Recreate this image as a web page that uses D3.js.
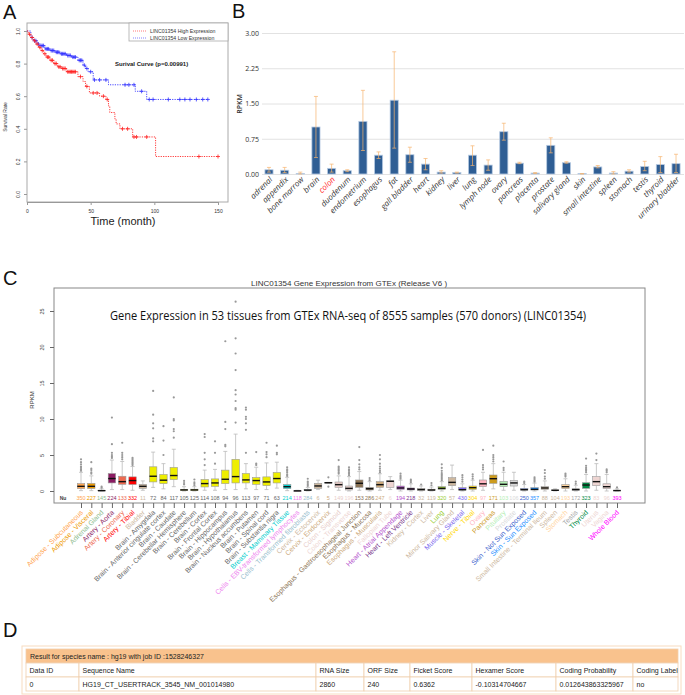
<!DOCTYPE html>
<html><head><meta charset="utf-8">
<script src="https://cdn.jsdelivr.net/npm/d3@7"></script>
<style>body{margin:0;background:#fff}</style>
</head><body><svg id="c" width="685" height="695"></svg>
<script>
// ---------- Panel A data ----------
const monthTicks=[0,50,100,150];
const survTicks=[0,0.2,0.4,0.6,0.8,1.0];
const highTimes=[0,1,3,5,7,9,11,13,15,18,21,24,27,31,40,44,46,49,57,62,64,65,69,70,73,83,101];
const highSurv=[1,0.98,0.96,0.94,0.92,0.90,0.88,0.86,0.84,0.82,0.80,0.78,0.77,0.75,0.72,0.69,0.66,0.62,0.60,0.58,0.54,0.50,0.46,0.43,0.40,0.35,0.23];
const highEnd=150;
const highCensor=[2,4,6,8,10,12,14,16,17,19,20,22,23,25,26,28,29,30,32,33,34,35,36,37,38,42,47,52,55,60,63,75,79,84,86,94,135,150];
const lowTimes=[0,3,5,8,10,14,18,22,26,31,35,40,44,46,48,52,64,85,94];
const lowSurv=[1,0.96,0.94,0.92,0.91,0.89,0.88,0.87,0.86,0.85,0.84,0.82,0.79,0.77,0.75,0.70,0.67,0.63,0.58];
const lowEnd=142;
const lowCensor=[4,6,7,9,11,12,13,15,16,17,19,20,21,23,24,25,27,28,29,30,32,33,34,36,37,38,41,42,43,45,47,50,53,57,62,77,80,84,90,96,99,111,120,124,128,133,138,142];
const legendA=["LINC01354 High Expression","LINC01354 Low  Expression"];

// ---------- Panel B data ----------
const tissuesB=["adrenal","appendix","bone marrow","brain","colon","duodenum","endometrium","esophagus","fat","gall bladder","heart","kidney","liver","lung","lymph node","ovary","pancreas","placenta","prostate","salivary gland","skin","small intestine","spleen","stomach","testis","thyroid","urinary bladder"];
const rpkm=[0.09,0.08,0.01,1.00,0.12,0.07,1.12,0.40,1.57,0.41,0.21,0.04,0.03,0.40,0.19,0.90,0.23,0.02,0.61,0.24,0.01,0.15,0.02,0.06,0.16,0.20,0.22];
const rpkmLo=[0.04,0.03,0.00,0.35,0.04,0.05,0.50,0.33,0.55,0.25,0.09,0.02,0.02,0.18,0.08,0.72,0.22,0.01,0.45,0.23,0.00,0.13,0.00,0.04,0.07,0.03,0.03];
const rpkmHi=[0.14,0.14,0.04,1.65,0.21,0.09,1.78,0.47,2.60,0.57,0.33,0.07,0.04,0.60,0.30,1.08,0.25,0.03,0.77,0.26,0.01,0.18,0.05,0.09,0.27,0.37,0.42];
const rpkmTicks=[0,0.75,1.5,2.25,3];

// ---------- Panel C data ----------
const tissuesC=["Adipose - Subcutaneous","Adipose - Visceral","Adrenal Gland","Artery - Aorta","Artery - Coronary","Artery - Tibial","Bladder","Brain - Amygdala","Brain - Anterior cingulate cortex","Brain - Caudate","Brain - Cerebellar Hemisphere","Brain - Cerebellum","Brain - Cortex","Brain - Frontal Cortex","Brain - Hippocampus","Brain - Hypothalamus","Brain - Nucleus accumbens","Brain - Putamen","Brain - Spinal cord","Brain - Substantia nigra","Breast - Mammary Tissue","Cells - EBV-transformed lymphocytes","Cells - Transformed fibroblasts","Cervix - Ectocervix","Cervix - Endocervix","Colon - Sigmoid","Colon - Transverse","Esophagus - Gastroesophageal Junction","Esophagus - Mucosa","Esophagus - Muscularis","Fallopian Tube","Heart - Atrial Appendage","Heart - Left Ventricle","Kidney - Cortex","Liver","Lung","Minor Salivary Gland","Muscle - Skeletal","Nerve - Tibial","Ovary","Pancreas","Pituitary","Prostate","Skin - Not Sun Exposed","Skin - Sun Exposed","Small Intestine - Terminal Ileum","Spleen","Stomach","Testis","Thyroid","Uterus","Vagina","Whole Blood"];
const sampleN=[350,227,145,224,133,332,11,72,84,117,105,125,114,108,94,96,113,97,71,63,214,118,284,6,5,149,196,153,286,247,6,194,218,32,119,320,57,430,304,97,171,103,106,250,357,88,104,193,172,323,83,96,393];
const tissueColor=["#FFA54F","#EE9A00","#8FBC8F","#8B1C62","#EE6A50","#FF0000","#CDB79E","#EEEE00","#EEEE00","#EEEE00","#EEEE00","#EEEE00","#EEEE00","#EEEE00","#EEEE00","#EEEE00","#EEEE00","#EEEE00","#EEEE00","#EEEE00","#00CDCD","#EE82EE","#9AC0CD","#CDB79E","#CDAA7D","#E8CCC8","#EED5D2","#8B7355","#8B7355","#CDAA7D","#EED5D2","#B452CD","#7A378B","#CDB79E","#CDB79E","#9ACD32","#CDB79E","#7A67EE","#FFD700","#FFB6C1","#CD9B1D","#B4EEB4","#D9D9D9","#3A5FCD","#1E90FF","#CDB79E","#CDB79E","#FFD39B","#A6A6A6","#008B45","#EED5D2","#EED5D2","#FF00FF"];
const q1=[0.33,0.35,0.02,1.12,0.93,0.90,0.37,1.26,1.03,1.59,0.08,0.05,0.56,0.65,1.03,1.12,1.12,0.93,0.75,1.12,0.33,0.00,0.05,0.37,1.10,0.51,0.14,0.51,0.14,0.51,0.51,0.23,0.14,0.09,0.05,0.23,0.74,0.14,0.23,0.60,1.07,0.60,0.69,0.14,0.14,0.23,0.05,0.32,0.10,0.37,0.74,0.32,0.02];
const med=[0.65,0.65,0.05,1.73,1.30,1.45,0.65,2.05,1.50,2.15,0.15,0.15,1.03,1.12,1.63,2.00,1.54,1.45,1.26,1.73,0.60,0.02,0.12,0.70,1.15,0.88,0.37,1.07,0.32,0.88,1.35,0.42,0.28,0.20,0.14,0.37,1.20,0.18,0.46,1.00,1.71,0.93,1.12,0.18,0.23,0.42,0.10,0.60,0.20,0.83,1.30,0.60,0.06];
const q3=[1.03,1.05,0.10,2.43,2.05,1.96,0.93,3.36,2.29,3.27,0.22,0.25,1.60,1.68,2.90,4.40,2.43,1.87,1.96,2.57,0.89,0.04,0.20,1.07,1.20,1.25,0.69,1.53,0.51,1.30,1.43,0.69,0.42,0.32,0.25,0.60,1.85,0.46,0.69,1.53,2.22,1.35,1.48,0.37,0.46,0.60,0.15,0.88,0.30,1.15,2.00,1.00,0.10];
const whiskLo=[0.05,0.05,0,0.2,0.2,0.1,0.1,0.5,0.3,0.6,0,0,0.1,0.1,0.2,0.2,0.3,0.2,0.2,0.4,0.05,0,0,0.2,1.1,0.1,0,0.1,0,0.1,0.2,0,0,0,0,0,0.2,0,0,0.1,0.3,0.1,0.1,0,0,0,0,0,0,0,0.1,0,0];
const whiskHi=[2.6,2.1,0.3,4.3,4.1,3.4,1.4,5.4,3.8,5.8,0.6,0.6,2.9,3.0,5.5,7.9,3.8,3.3,3.9,4.0,1.9,0.1,0.5,1.5,1.2,2.1,2.0,2.7,1.3,2.4,2.0,1.5,1.0,0.7,0.55,1.3,3.6,1.0,1.5,2.6,3.8,2.6,2.6,0.9,1.1,1.4,0.3,1.7,0.8,2.3,3.8,2.3,0.3];
const outliers=[[2.8,3.0,3.2,3.4,3.7,4.0,4.4],[2.4,2.6,2.9,3.1,4.0],[0.45,0.6],[4.6,4.8,5.0,5.3,6.5,10.2],[4.4,4.7,5.0,5.3,6.7],[3.6,3.8,4.0,4.2,4.4,4.6],[],[6.9,7.3,8.7,9.4,10.6,13.9],[5.0,7.0,9.0],[7.4,8.3,8.6,9.8,10.0,13.0],[0.9,1.1,1.4],[0.8,1.0,1.2,1.6],[3.6,4.4,5.3,7.5,7.9],[3.8,5.3,6.9],[6.2,6.4,8.6,9.6,20.8],[9.5,11.3,11.5,12.5,13.4,14.0,16.8,19.1,21.2,26.3],[5.3,8.5,9.4,10.0,10.3,11.3,11.6],[3.6,3.8,5.4],[4.7,5.1,5.4,6.7],[5.1,5.3,6.3],[2.1,2.3,2.6,2.8,3.0,3.3],[],[0.7,0.9,1.1,1.3,1.7],[],[0.6,1.9],[2.4,2.6,2.8,3.0,3.2,3.4,4.3],[2.2,2.4,2.6,2.8,3.0,3.3],[3.0,3.3,3.7,4.3,6.1],[1.5,1.8],[2.6,2.8,3.1,3.4,3.8,4.4,5.0],[],[1.7,1.9,2.1,2.4],[1.2,1.4,1.6],[0.9],[0.8,1.1],[1.5,1.7,1.9,2.1,2.3,2.5,2.8,3.2,3.7],[],[1.3,1.6,1.9,2.2],[1.7,2.0,2.3],[3.0,3.3,3.6,5.7],[4.1,4.4,4.7,5.0,6.3],[2.9,3.2,4.1],[],[1.1,1.3],[1.3,1.5,1.7,1.9],[1.7,2.0,2.5,2.9],[],[2.0,2.2,2.4],[1.0,1.3],[2.6,2.8,3.0,3.2,3.5,4.5],[4.3,5.2],[2.6,2.8,3.0],[0.5]];
const rpkmTicksC=[0,5,10,15,20,25];

// ---------- Panel D data ----------
const tableTitle="Result for species name : hg19 with job ID :1528246327";
const tableHeaders=["Data ID","Sequence Name","RNA Size","ORF Size","Ficket Score","Hexamer Score","Coding Probability","Coding Label"];
const tableRow=["0","HG19_CT_USERTRACK_3545_NM_001014980","2860","240","0.6362","-0.10314704667","0.012643863325967","no"];

// =======================================================
const svg=d3.select("#c");
svg.append("rect").attr("width",685).attr("height",695).attr("fill","#fff");
const RF="'Liberation Sans', Arial, sans-serif";
const OS="'Open Sans', sans-serif";

[["A",3,19],["B",232,18],["C",3,285],["D",3,637]].forEach(([t,x,y])=>
  svg.append("text").attr("x",x).attr("y",y).attr("font-family",RF).attr("font-size",20).attr("fill","#111").text(t));

// ---------------- Panel A ----------------
const ax=d3.scaleLinear().domain([0,150]).range([27,218]);
const ay=d3.scaleLinear().domain([0,1]).range([194,31]);
const gA=svg.append("g").attr("font-family",RF);
gA.append("rect").attr("x",27).attr("y",23).attr("width",201).attr("height",179).attr("fill","none").attr("stroke","#aaa").attr("stroke-width",1);
const axB=gA.append("g").attr("transform","translate(0,202)").call(d3.axisBottom(ax).tickValues(monthTicks).tickSize(3).tickSizeOuter(0));
axB.select(".domain").attr("stroke","#999");
axB.selectAll("line").attr("stroke","#999");
axB.selectAll("text").attr("font-size",5).attr("y",7).attr("fill","#333");
const axL=gA.append("g").attr("transform","translate(27,0)").call(d3.axisLeft(ay).tickValues(survTicks).tickSize(3).tickFormat(d3.format(".1f")));
axL.select(".domain").remove();
axL.selectAll("line").attr("stroke","#999");
axL.selectAll("text").attr("font-size",5).attr("x",0).attr("dy",0).attr("text-anchor","middle").attr("fill","#333").attr("transform","translate(-7,0) rotate(-90)");
gA.append("text").attr("transform","translate(7,117) rotate(-90)").attr("text-anchor","middle").attr("font-size",5).attr("fill","#333").text("Survival Rate");
gA.append("text").attr("x",123).attr("y",225).attr("text-anchor","middle").attr("font-size",11).attr("fill","#222").text("Time (month)");

const stepLine=d3.line().x(d=>ax(d[0])).y(d=>ay(d[1])).curve(d3.curveStepAfter);
function survAt(times,surv,t){const i=d3.bisectRight(times,t)-1;return surv[Math.max(0,i)];}
function drawCurve(times,surv,end,cens,color){
  const pts=times.map((t,i)=>[t,surv[i]]).concat([[end,surv[surv.length-1]]]);
  gA.append("path").attr("d",stepLine(pts)).attr("fill","none").attr("stroke",color).attr("stroke-width",0.9).attr("stroke-dasharray","1.2,1.2");
  gA.selectAll(null).data(cens).enter().append("path")
    .attr("transform",t=>`translate(${ax(t)},${ay(survAt(times,surv,t))})`)
    .attr("d","M-2,0h4M0,-2v4").attr("stroke",color).attr("stroke-width",0.8).attr("fill","none");
}
drawCurve(lowTimes,lowSurv,lowEnd,lowCensor,"#3333ff");
drawCurve(highTimes,highSurv,highEnd,highCensor,"#ff2222");

gA.append("rect").attr("x",129).attr("y",23).attr("width",99).attr("height",18).attr("fill","#fff").attr("stroke","#aaa").attr("stroke-width",0.8);
[["#ff5555",31],["#6666ff",38]].forEach(([c,y],i)=>{
  gA.append("line").attr("x1",133).attr("x2",146).attr("y1",y).attr("y2",y).attr("stroke",c).attr("stroke-width",0.8).attr("stroke-dasharray","1,1");
  gA.append("text").attr("x",150).attr("y",y+1.8).attr("font-size",5.2).attr("fill","#333").text(legendA[i]);
});
gA.append("text").attr("x",115).attr("y",66).attr("font-size",6).attr("font-weight","bold").attr("fill","#222").text("Surival Curve (p=0.00991)");

// ---------------- Panel B ----------------
const bx=d3.scaleBand().domain(tissuesB).range([261,684]).paddingInner(0.48).paddingOuter(0.25);
const by=d3.scaleLinear().domain([0,3]).range([174,33]);
const gB=svg.append("g");
const gridB=gB.append("g").attr("transform","translate(262,0)").call(d3.axisLeft(by).tickValues(rpkmTicks).tickSize(-422).tickFormat(d3.format(".2f")));
gridB.select(".domain").remove();
gridB.selectAll("line").attr("stroke","#e2e2e2");
gridB.selectAll("text").attr("font-family",OS).attr("font-size",7).attr("fill","#333").attr("x",-3);
gB.append("text").attr("transform","translate(242,104) rotate(-90)").attr("text-anchor","middle").attr("font-family",OS).attr("font-size",7).attr("font-weight","600").attr("fill","#333").text("RPKM");
gB.selectAll(".bar").data(tissuesB).enter().append("rect")
  .attr("x",d=>bx(d)).attr("width",bx.bandwidth()).attr("y",(d,i)=>by(rpkm[i])).attr("height",(d,i)=>by(0)-by(rpkm[i]))
  .attr("fill","#2f5e94").attr("stroke","#b7cbe3").attr("stroke-width",0.8);
tissuesB.forEach((d,i)=>{
  const c=bx(d)+bx.bandwidth()/2;
  const g=gB.append("g").attr("stroke","#f6b46e").attr("stroke-opacity",0.7).attr("stroke-width",1);
  g.append("line").attr("x1",c).attr("x2",c).attr("y1",by(rpkmLo[i])).attr("y2",by(rpkmHi[i]));
  g.append("line").attr("x1",c-2).attr("x2",c+2).attr("y1",by(rpkmHi[i])).attr("y2",by(rpkmHi[i]));
  g.append("line").attr("x1",c-2).attr("x2",c+2).attr("y1",by(rpkmLo[i])).attr("y2",by(rpkmLo[i]));
});
const axBx=gB.append("g").attr("transform","translate(0,174)").call(d3.axisBottom(bx).tickSize(0));
axBx.select(".domain").remove();
axBx.selectAll("text").attr("font-family",OS).attr("font-style","italic").attr("font-size",8).attr("fill",d=>d==="colon"?"#ff2a2a":"#333")
  .attr("x",0).attr("y",0).attr("dy",0).attr("text-anchor","end").attr("transform","translate(4,6) rotate(-45)");

// ---------------- Panel C ----------------
const cxs=d3.scaleLinear().domain([1,53]).range([81,617]);
const cys=d3.scaleLinear().domain([0,25]).range([491,311]);
const gC=svg.append("g").attr("font-family",RF);
gC.append("text").attr("x",349).attr("y",286).attr("text-anchor","middle").attr("font-size",8).attr("fill","#333").text("LINC01354 Gene Expression from GTEx (Release  V6 )");
gC.append("rect").attr("x",54).attr("y",288).attr("width",591).attr("height",215).attr("fill","none").attr("stroke","#888").attr("stroke-width",1);
gC.append("text").attr("x",110).attr("y",320).attr("font-family",OS).attr("font-size",13).attr("fill","#111")
  .attr("textLength",476).attr("lengthAdjust","spacingAndGlyphs")
  .text("Gene Expression in 53 tissues from GTEx RNA-seq of 8555 samples (570 donors) (LINC01354)");
const cyAx=gC.append("g").attr("transform","translate(54,0)").call(d3.axisLeft(cys).tickValues(rpkmTicksC).tickSize(4));
cyAx.select(".domain").remove();
cyAx.selectAll("line").attr("stroke","#666");
cyAx.selectAll("text").attr("font-size",5.5).attr("fill","#444").attr("x",0).attr("dy",0).attr("text-anchor","middle").attr("transform","translate(-10,0) rotate(-90)");
gC.append("text").attr("transform","translate(34,400) rotate(-90)").attr("text-anchor","middle").attr("font-size",6).attr("fill","#333").text("RPKM");
const bw=7.4;
tissuesC.forEach((t,i)=>{
  const x=cxs(i+1);
  const g=gC.append("g");
  g.append("line").attr("x1",x).attr("x2",x).attr("y1",cys(q3[i])).attr("y2",cys(whiskHi[i])).attr("stroke","#bbb").attr("stroke-width",0.8);
  g.append("line").attr("x1",x).attr("x2",x).attr("y1",cys(q1[i])).attr("y2",cys(whiskLo[i])).attr("stroke","#bbb").attr("stroke-width",0.8);
  g.append("line").attr("x1",x-2).attr("x2",x+2).attr("y1",cys(whiskHi[i])).attr("y2",cys(whiskHi[i])).attr("stroke","#bbb").attr("stroke-width",0.8);
  g.append("line").attr("x1",x-2).attr("x2",x+2).attr("y1",cys(whiskLo[i])).attr("y2",cys(whiskLo[i])).attr("stroke","#bbb").attr("stroke-width",0.8);
  g.append("rect").attr("x",x-bw/2).attr("width",bw).attr("y",cys(q3[i])).attr("height",Math.max(0.6,cys(q1[i])-cys(q3[i])))
    .attr("fill",i===24?"#777":tissueColor[i]).attr("stroke","#999").attr("stroke-width",0.6);
  g.append("line").attr("x1",x-bw/2).attr("x2",x+bw/2).attr("y1",cys(med[i])).attr("y2",cys(med[i])).attr("stroke","#111").attr("stroke-width",1.4);
  g.selectAll("circle").data(outliers[i]).enter().append("circle").attr("cx",x).attr("cy",v=>cys(v)).attr("r",1.1).attr("fill","#999");
});
const labelColor=(i)=>(i>=7&&i<=19)?"#666":tissueColor[i];
gC.append("text").attr("x",63).attr("y",500).attr("text-anchor","middle").attr("font-size",5).attr("font-weight","bold").attr("fill","#444").text("Nu");
gC.selectAll(".cnt").data(sampleN).enter().append("text").attr("x",(d,i)=>cxs(i+1)).attr("y",500).attr("text-anchor","middle")
  .attr("font-size",5.5).attr("fill",(d,i)=>labelColor(i)).text(d=>d);
const cxAx=gC.append("g").attr("transform","translate(0,503)").call(d3.axisBottom(cxs).tickValues(d3.range(1,54)).tickSize(5).tickFormat(d=>tissuesC[d-1]));
cxAx.select(".domain").remove();
cxAx.selectAll("line").attr("stroke","#666");
cxAx.selectAll("text").attr("font-size",7).attr("fill",d=>labelColor(d-1))
  .attr("x",0).attr("y",0).attr("dy",0).attr("text-anchor","end").attr("transform","translate(2,10) rotate(-45)");

// ---------------- Panel D ----------------
const gD=svg.append("g").attr("font-family",RF).attr("font-size",7).attr("fill","#222");
const colEdges=[26,79,316,364,410,472,556,633,678];
gD.append("rect").attr("x",22).attr("y",646).attr("width",659).attr("height",48).attr("fill","#fff").attr("stroke","#f8dcc0").attr("stroke-width",1);
gD.append("rect").attr("x",26).attr("y",649).attr("width",652).attr("height",14).attr("fill","#f9c28d").attr("stroke","#f3cfad").attr("stroke-width",0.8);
gD.append("text").attr("x",30).attr("y",658.5).text(tableTitle);
[tableHeaders,tableRow].forEach((row,r)=>{
  const y0=663+r*14;
  row.forEach((v,c)=>{
    gD.append("rect").attr("x",colEdges[c]).attr("y",y0).attr("width",colEdges[c+1]-colEdges[c]).attr("height",14).attr("fill","#fff").attr("stroke","#f0cfae").attr("stroke-width",0.8);
    gD.append("text").attr("x",colEdges[c]+3.5).attr("y",y0+9.5).text(v);
  });
});
</script></body></html>
